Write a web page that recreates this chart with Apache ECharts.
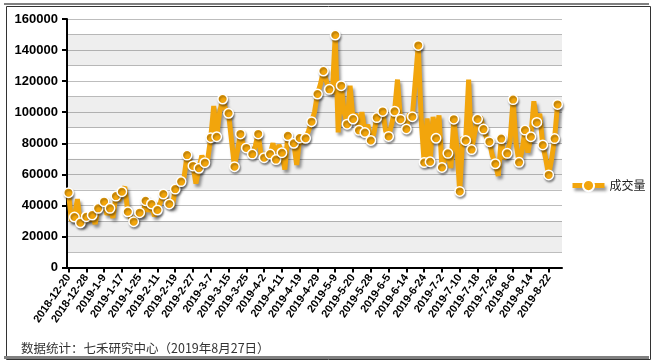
<!DOCTYPE html>
<html>
<head>
<meta charset="utf-8">
<script src="https://cdn.jsdelivr.net/npm/echarts@6/dist/echarts.min.js"></script>
<style>html,body{margin:0;padding:0;background:#fff}#c{width:654px;height:362px}</style>
</head>
<body>
<div id="c"></div>
<script>
var categories = [
'2018-12-20','2018-12-21','2018-12-24','2018-12-25','2018-12-26','2018-12-27','2018-12-28',
'2019-1-2','2019-1-3','2019-1-4','2019-1-7','2019-1-8','2019-1-9','2019-1-10','2019-1-11','2019-1-14','2019-1-15','2019-1-16','2019-1-17','2019-1-18','2019-1-21','2019-1-22','2019-1-23','2019-1-24','2019-1-25','2019-1-28','2019-1-29','2019-1-30','2019-1-31',
'2019-2-1','2019-2-11','2019-2-12','2019-2-13','2019-2-14','2019-2-15','2019-2-18','2019-2-19','2019-2-20','2019-2-21','2019-2-22','2019-2-25','2019-2-26','2019-2-27','2019-2-28',
'2019-3-1','2019-3-4','2019-3-5','2019-3-6','2019-3-7','2019-3-8','2019-3-11','2019-3-12','2019-3-13','2019-3-14','2019-3-15','2019-3-18','2019-3-19','2019-3-20','2019-3-21','2019-3-22','2019-3-25','2019-3-26','2019-3-27','2019-3-28','2019-3-29',
'2019-4-1','2019-4-2','2019-4-3','2019-4-4','2019-4-8','2019-4-9','2019-4-10','2019-4-11','2019-4-12','2019-4-15','2019-4-16','2019-4-17','2019-4-18','2019-4-19','2019-4-22','2019-4-23','2019-4-24','2019-4-25','2019-4-26','2019-4-29','2019-4-30',
'2019-5-5','2019-5-6','2019-5-7','2019-5-8','2019-5-9','2019-5-10','2019-5-13','2019-5-14','2019-5-15','2019-5-16','2019-5-20','2019-5-21','2019-5-22','2019-5-23','2019-5-24','2019-5-27','2019-5-28','2019-5-29','2019-5-30','2019-5-31',
'2019-6-3','2019-6-4','2019-6-5','2019-6-6','2019-6-10','2019-6-11','2019-6-12','2019-6-13','2019-6-14','2019-6-17','2019-6-18','2019-6-19','2019-6-20','2019-6-21','2019-6-24','2019-6-25','2019-6-26','2019-6-27','2019-6-28',
'2019-7-1','2019-7-2','2019-7-3','2019-7-4','2019-7-5','2019-7-8','2019-7-9','2019-7-10','2019-7-11','2019-7-12','2019-7-15','2019-7-16','2019-7-17','2019-7-18','2019-7-19','2019-7-22','2019-7-23','2019-7-24','2019-7-25','2019-7-26','2019-7-29','2019-7-30','2019-7-31',
'2019-8-1','2019-8-2','2019-8-6','2019-8-7','2019-8-8','2019-8-9','2019-8-12','2019-8-13','2019-8-14','2019-8-15','2019-8-16','2019-8-19','2019-8-20','2019-8-21','2019-8-22','2019-8-23','2019-8-26','2019-8-27'
];
var volume = [
48200,30000,32500,44000,28800,28000,32700,30000,33800,28000,
38100,40000,42400,34000,38100,32000,46000,43000,48800,52000,
35900,32000,29500,33000,35300,33000,43000,36000,40900,33000,
37000,42000,47300,44000,40900,39000,50500,52000,55300,58000,
72400,68000,65400,54000,63900,72000,67500,70000,83600,104000,
84200,100000,108500,102000,99300,82000,64900,75000,86000,79000,
77000,75000,73000,78000,86000,72000,70700,74000,73000,80000,
69500,79000,73900,63000,84800,82000,80000,66000,83400,80000,
83200,88000,93900,100000,111700,118000,126500,120000,114700,112000,
149700,87000,117100,100000,92300,117000,95600,99000,88300,100000,
86900,92000,81800,86000,96500,98000,100500,88000,84400,92000,
100600,121000,95500,96000,89200,99000,97100,120000,143000,95000,
67600,96000,68100,97000,83200,98000,64400,70000,73500,64000,
95500,78000,49000,84000,81800,121000,75900,86000,95600,97000,
89100,84000,81000,72000,66800,59000,83000,70000,73500,82000,
108100,80000,67700,75000,88500,74000,84200,107000,93400,99000,
78900,70000,59600,70000,83000,105000
];
var yTicks = {min: 0, max: 160000, interval: 20000};
var bandRanges = [[10000,30000],[50000,70000],[90000,110000],[130000,150000]];
var seriesName = '成交量';
var footnote = '数据统计：七禾研究中心（2019年8月27日）';

var chart = echarts.init(document.getElementById('c'), null, {renderer:'canvas'});
var orange = '#F2A50C';
var option = {
  animation: false,
  backgroundColor: '#fff',
  grid: {left: 67, right: 92, top: 19, bottom: 94.5},
  legend: {
    data: [seriesName], left: 565, top: 174, itemWidth: 32, itemHeight: 14, itemGap: 5,
    lineStyle: {width: 5, shadowColor: 'rgba(0,0,0,0.4)', shadowBlur: 3, shadowOffsetX: 2, shadowOffsetY: 3},
    textStyle: {fontFamily: 'Noto Sans CJK SC', fontSize: 12, color: '#222'}
  },
  xAxis: {
    type: 'category', data: categories, boundaryGap: true, max: categories.length,
    axisLine: {lineStyle: {color: '#000', width: 2}},
    axisTick: {show: true, interval: 5, alignWithLabel: true, length: 5, lineStyle: {color: '#000', width: 2}},
    axisLabel: {interval: 5, rotate: 55, margin: 8, fontFamily: 'Liberation Sans', fontSize: 11, fontWeight: 'bold', color: '#000'},
    splitLine: {show: false}
  },
  yAxis: {
    type: 'value', min: yTicks.min, max: yTicks.max, interval: yTicks.interval,
    axisLine: {show: true, lineStyle: {color: '#000', width: 2}},
    axisTick: {show: true, length: 5, lineStyle: {color: '#000', width: 2}},
    axisLabel: {margin: 9, fontFamily: 'Liberation Sans', fontSize: 13, fontWeight: 'bold', color: '#000',
      formatter: function(v){ return String(v); }},
    splitLine: {show: true, lineStyle: {color: '#BDBDBD', width: 1}},
    minorTick: {show: false, splitNumber: 2},
    minorSplitLine: {show: true, lineStyle: {color: '#BDBDBD', width: 1}}
  },
  series: [
    {
      type: 'line', name: 'bands', data: [], z: 1, silent: true,
      markArea: {silent: true, itemStyle: {color: 'rgba(0,0,0,0.065)'},
        data: bandRanges.map(function(r){ return [{yAxis: r[0]}, {yAxis: r[1]}]; })}
    },
    {
      type: 'line', name: seriesName, data: volume, z: 3,
      symbol: 'circle',
      symbolSize: function(v, p){ if (!p) return 10; return (p.dataIndex % 2 === 0 || p.dataIndex === volume.length - 1) ? 9.5 : 0; },
      showAllSymbol: true,
      lineStyle: {color: orange, width: 5, shadowColor: 'rgba(0,0,0,0.4)', shadowBlur: 3, shadowOffsetX: 2, shadowOffsetY: 3},
      itemStyle: {color: orange, borderColor: '#fff', borderWidth: 1.5, shadowColor: 'rgba(0,0,0,0.35)', shadowBlur: 2, shadowOffsetX: 1, shadowOffsetY: 2}
    }
  ],
  graphic: [
    {type: 'rect', left: 4, top: 4, shape: {x: 0, y: 0, width: 644, height: 353}, style: {fill: 'none', stroke: '#333', lineWidth: 1}, silent: true},
    {type: 'line', shape: {x1: 4, y1: 4, x2: 649, y2: 4}, style: {stroke: '#808080', lineWidth: 2}, silent: true},
    {type: 'line', shape: {x1: 4, y1: 357.5, x2: 649, y2: 357.5}, style: {stroke: '#808080', lineWidth: 3}, silent: true},
    {type: 'text', left: 21, top: 342, style: {text: footnote, fontFamily: 'Noto Sans CJK SC', fontSize: 12.5, fill: '#333'}, silent: true}
  ]
};
chart.setOption(option);
</script>
</body>
</html>
